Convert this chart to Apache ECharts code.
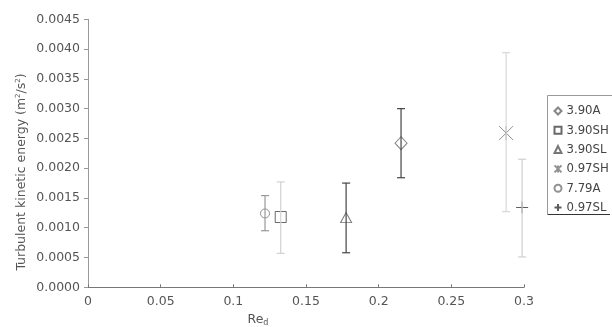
<!DOCTYPE html>
<html>
<head>
<meta charset="utf-8">
<script src="https://cdn.jsdelivr.net/npm/echarts@6/dist/echarts.min.js"></script>
<style>
  html, body { margin: 0; padding: 0; background: #fff; }
  #chart { width: 612px; height: 327px; }
</style>
</head>
<body>
<div id="chart"></div>
<script>
// Cases (nozzle ratio + flow regime)
const caseNames = ['3.90A', '3.90SH', '3.90SL', '0.97SH', '7.79A', '0.97SL'];
// Reynolds number Re_d for each case
const reD = [0.2154, 0.1326, 0.1776, 0.2877, 0.1218, 0.2987];
// Mean turbulent kinetic energy (m²/s²)
const tke = [0.00242, 0.00118, 0.00117, 0.00259, 0.00124, 0.00134];
// Error bar ends
const tkeLow = [0.00184, 0.00057, 0.00058, 0.00127, 0.00095, 0.00051];
const tkeHigh = [0.00300, 0.00177, 0.00175, 0.00394, 0.00154, 0.00215];
// Axis tick labels
const xTicks = ['0', '0.05', '0.1', '0.15', '0.2', '0.25', '0.3'];
const yTicks = ['0.0000', '0.0005', '0.0010', '0.0015', '0.0020', '0.0025', '0.0030', '0.0035', '0.0040', '0.0045'];

// Marker and error-bar styling per case
const markerStyles = [
  { symbol: 'diamond', size: [12, 13], stroke: '#666' },
  { symbol: 'rect', size: 11, stroke: '#444' },
  { symbol: 'triangle', size: [11, 10], stroke: '#555' },
  { symbol: 'path://M0,0L10,10M10,0L0,10M5,0L5,10', size: 14, stroke: '#777' },
  { symbol: 'circle', size: 9, stroke: '#777' },
  { symbol: 'path://M0,5L10,5M5,0L5,10', size: 12, stroke: '#333' }
];
const barColors = ['#444', '#d2d2d2', '#444', '#d8d8d8', '#999', '#cfcfcf'];

const FONT = '"DejaVu Sans", sans-serif';
const TEXT = '#555';

const chart = echarts.init(document.getElementById('chart'), null, { renderer: 'canvas' });

const scatterSeries = caseNames.map((name, i) => ({
  name: name,
  type: 'scatter',
  symbol: markerStyles[i].symbol,
  symbolSize: markerStyles[i].size,
  itemStyle: { color: 'none', borderColor: markerStyles[i].stroke, borderWidth: 1 },
  emphasis: { disabled: true },
  z: 2,
  data: [[reD[i], tke[i]]]
}));

const errorSeries = {
  type: 'custom',
  name: 'errorbars',
  z: 3,
  silent: true,
  data: caseNames.map((n, i) => [reD[i], tkeLow[i], tkeHigh[i], i]),
  renderItem: function (params, api) {
    const x = api.value(0);
    const lo = api.coord([x, api.value(1)]);
    const hi = api.coord([x, api.value(2)]);
    const col = barColors[api.value(3)];
    const hw = 4;
    const st = { stroke: col, lineWidth: 1.2 };
    return {
      type: 'group',
      children: [
        { type: 'line', shape: { x1: lo[0], y1: lo[1], x2: hi[0], y2: hi[1] }, style: st },
        { type: 'line', shape: { x1: lo[0] - hw, y1: lo[1], x2: lo[0] + hw, y2: lo[1] }, style: st },
        { type: 'line', shape: { x1: hi[0] - hw, y1: hi[1], x2: hi[0] + hw, y2: hi[1] }, style: st }
      ]
    };
  }
};

chart.setOption({
  backgroundColor: '#fff',
  animation: false,
  textStyle: { fontFamily: FONT },
  grid: { left: 88, right: 88, top: 19.3, bottom: 39.7, containLabel: false },
  xAxis: {
    type: 'value', min: 0, max: 0.3, interval: 0.05,
    axisLine: { lineStyle: { color: '#777', width: 1 } },
    axisTick: { inside: true, length: 3, lineStyle: { color: '#777' } },
    splitLine: { show: false },
    axisLabel: {
      margin: 8, color: TEXT, fontSize: 12.5, fontFamily: FONT,
      formatter: (v, idx) => xTicks[idx]
    }
  },
  yAxis: {
    type: 'value', min: 0, max: 0.0045, interval: 0.0005,
    axisLine: { show: true, lineStyle: { color: '#999', width: 1 } },
    axisTick: { show: true, inside: false, length: 4, lineStyle: { color: '#999' } },
    splitLine: { show: false },
    axisLabel: {
      margin: 8, color: TEXT, fontSize: 12.5, fontFamily: FONT,
      formatter: (v, idx) => yTicks[idx]
    }
  },
  legend: {
    data: caseNames,
    orient: 'vertical',
    left: 552, top: 104,
    padding: 0,
    itemWidth: 7, itemHeight: 7, itemGap: 5.3,
    textStyle: { color: '#444', fontSize: 13, lineHeight: 14, fontFamily: '"Liberation Sans Narrow", "DejaVu Sans Condensed", Lato, sans-serif' },
    selectedMode: false
  },
  graphic: [
    {
      type: 'polyline', silent: true,
      shape: { points: [[612, 95.5], [547.5, 95.5], [547.5, 214]] },
      style: { stroke: '#999', lineWidth: 1, fill: 'none' }
    },
    {
      type: 'line', silent: true,
      shape: { x1: 547.5, y1: 214.5, x2: 610, y2: 214.5 },
      style: { stroke: '#333', lineWidth: 1 }
    },
    {
      type: 'text', silent: true,
      x: 22, y: 172, rotation: Math.PI / 2,
      style: {
        text: 'Turbulent kinetic energy (m{sup|2}/s{sup|2})',
        fill: TEXT, fontSize: 12.5, fontFamily: FONT,
        align: 'center', verticalAlign: 'middle', lineHeight: 14,
        rich: { sup: { fontSize: 7, fontFamily: FONT, fill: TEXT, verticalAlign: 'top', lineHeight: 14 } }
      }
    },
    {
      type: 'text', silent: true,
      x: 258, y: 320,
      style: {
        text: 'Re{sub|d}',
        fill: TEXT, fontSize: 12.5, fontFamily: FONT,
        align: 'center', verticalAlign: 'middle', lineHeight: 14,
        rich: { sub: { fontSize: 8, fontFamily: FONT, fill: TEXT, verticalAlign: 'bottom', lineHeight: 14 } }
      }
    }
  ],
  series: scatterSeries.concat([errorSeries])
});
</script>
</body>
</html>
